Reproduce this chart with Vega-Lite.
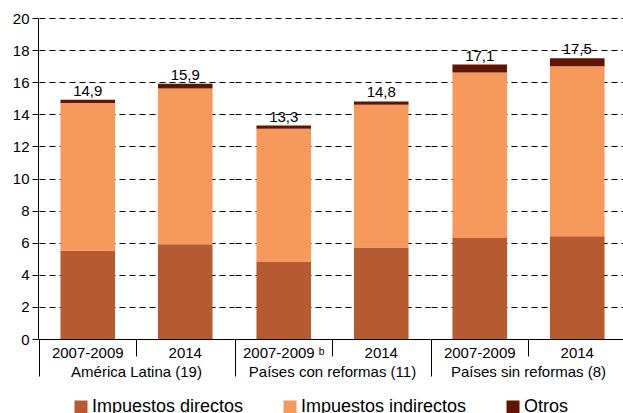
{
  "$schema": "https://vega.github.io/schema/vega-lite/v6.json",
  "padding": {"left": 12, "top": 11, "right": 0, "bottom": 0},
  "data": {"values": [
    {"grupo": "América Latina (19)", "periodo": "2007-2009", "componente": "Impuestos directos", "orden": 1, "valor": 5.5},
    {"grupo": "América Latina (19)", "periodo": "2007-2009", "componente": "Impuestos indirectos", "orden": 2, "valor": 9.2},
    {"grupo": "América Latina (19)", "periodo": "2007-2009", "componente": "Otros", "orden": 3, "valor": 0.2},
    {"grupo": "América Latina (19)", "periodo": "2014", "componente": "Impuestos directos", "orden": 1, "valor": 5.9},
    {"grupo": "América Latina (19)", "periodo": "2014", "componente": "Impuestos indirectos", "orden": 2, "valor": 9.7},
    {"grupo": "América Latina (19)", "periodo": "2014", "componente": "Otros", "orden": 3, "valor": 0.3},
    {"grupo": "Países con reformas (11)", "periodo": "2007-2009 ᵇ", "componente": "Impuestos directos", "orden": 1, "valor": 4.8},
    {"grupo": "Países con reformas (11)", "periodo": "2007-2009 ᵇ", "componente": "Impuestos indirectos", "orden": 2, "valor": 8.3},
    {"grupo": "Países con reformas (11)", "periodo": "2007-2009 ᵇ", "componente": "Otros", "orden": 3, "valor": 0.2},
    {"grupo": "Países con reformas (11)", "periodo": "2014", "componente": "Impuestos directos", "orden": 1, "valor": 5.7},
    {"grupo": "Países con reformas (11)", "periodo": "2014", "componente": "Impuestos indirectos", "orden": 2, "valor": 8.9},
    {"grupo": "Países con reformas (11)", "periodo": "2014", "componente": "Otros", "orden": 3, "valor": 0.2},
    {"grupo": "Países sin reformas (8)", "periodo": "2007-2009", "componente": "Impuestos directos", "orden": 1, "valor": 6.3},
    {"grupo": "Países sin reformas (8)", "periodo": "2007-2009", "componente": "Impuestos indirectos", "orden": 2, "valor": 10.3},
    {"grupo": "Países sin reformas (8)", "periodo": "2007-2009", "componente": "Otros", "orden": 3, "valor": 0.5},
    {"grupo": "Países sin reformas (8)", "periodo": "2014", "componente": "Impuestos directos", "orden": 1, "valor": 6.4},
    {"grupo": "Países sin reformas (8)", "periodo": "2014", "componente": "Impuestos indirectos", "orden": 2, "valor": 10.6},
    {"grupo": "Países sin reformas (8)", "periodo": "2014", "componente": "Otros", "orden": 3, "valor": 0.5}
  ]},
  "facet": {
    "column": {
      "field": "grupo", "type": "nominal",
      "sort": ["América Latina (19)", "Países con reformas (11)", "Países sin reformas (8)"],
      "header": {"labelOrient": "bottom", "title": null, "labelFontSize": 15, "labelColor": "black", "labelPadding": -12}
    }
  },
  "spacing": 0,
  "resolve": {"scale": {"x": "independent"}},
  "spec": {
    "width": 195,
    "height": 321,
    "layer": [
      {
        "mark": {"type": "bar", "width": {"band": 0.56}},
        "encoding": {
          "x": {
            "field": "periodo", "type": "nominal", "sort": null,
            "scale": {"paddingInner": 0, "paddingOuter": 0},
            "axis": {
              "title": null, "labelAngle": 0, "bandPosition": 0,
              "tickSize": {"condition": {"test": "datum.value != '2014'", "value": 37}, "value": 17},
              "labelPadding": {"condition": {"test": "datum.value != '2014'", "value": -31}, "value": -11},
              "tickColor": "black", "domainColor": "black",
              "labelFontSize": 15, "labelColor": "black", "grid": false
            }
          },
          "y": {
            "field": "valor", "type": "quantitative", "stack": "zero",
            "scale": {"domain": [0, 20], "nice": false},
            "axis": {
              "title": null, "values": [0, 2, 4, 6, 8, 10, 12, 14, 16, 18, 20],
              "tickSize": 6, "labelPadding": 3, "grid": true, "gridDash": [6, 4],
              "gridColor": "black", "gridOpacity": 1, "domainColor": "black", "tickColor": "black",
              "labelFontSize": 15, "labelColor": "black"
            }
          },
          "color": {
            "field": "componente", "type": "nominal",
            "scale": {"domain": ["Impuestos directos", "Impuestos indirectos", "Otros"], "range": ["#B65A32", "#F6995C", "#5E1600"]},
            "legend": {
              "title": null, "orient": "none", "legendX": 33, "legendY": 380, "direction": "horizontal", "symbolType": "square",
              "symbolSize": 169, "labelFontSize": 18, "labelColor": "black", "columnPadding": 37, "labelOffset": 2,
              "labelLimit": 400, "symbolStrokeWidth": 0, "symbolOpacity": 1
            }
          },
          "order": {"field": "orden", "type": "quantitative"}
        }
      },
      {
        "transform": [{"aggregate": [{"op": "sum", "field": "valor", "as": "total"}], "groupby": ["grupo", "periodo"]}],
        "mark": {"type": "text", "dy": -9, "fontSize": 15, "color": "black"},
        "encoding": {
          "x": {"field": "periodo", "type": "nominal", "sort": null},
          "y": {
            "field": "total", "type": "quantitative",
            "scale": {"domain": [0, 20], "nice": false},
            "axis": {
              "title": null, "values": [0, 2, 4, 6, 8, 10, 12, 14, 16, 18, 20],
              "tickSize": 6, "labelPadding": 3, "grid": true, "gridDash": [6, 4],
              "gridColor": "black", "gridOpacity": 1, "domainColor": "black", "tickColor": "black",
              "labelFontSize": 15, "labelColor": "black"
            }
          },
          "text": {"field": "total", "type": "quantitative", "format": ".1f"}
        }
      }
    ]
  },
  "config": {
    "font": "Liberation Sans",
    "view": {"stroke": null},
    "locale": {"number": {"decimal": ",", "thousands": ".", "grouping": [3], "currency": ["", ""]}}
  }
}
